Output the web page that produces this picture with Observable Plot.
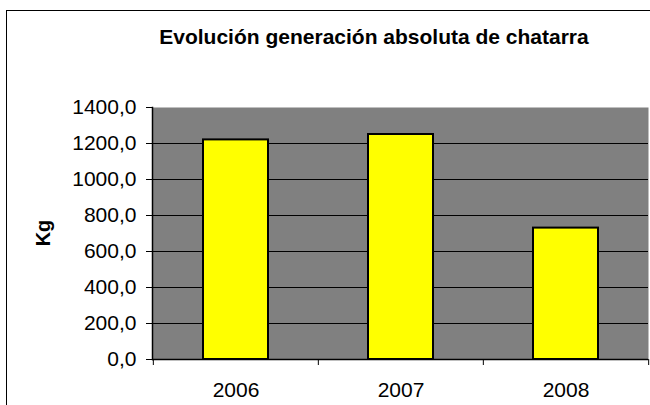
<!DOCTYPE html>
<html>
<head>
<meta charset="utf-8">
<script src="https://cdn.jsdelivr.net/npm/d3@7"></script>
<script src="https://cdn.jsdelivr.net/npm/@observablehq/plot@0.6"></script>
<style>
  html, body { margin: 0; padding: 0; background: #fff; }
  #wrap { position: relative; width: 650px; height: 405px; overflow: hidden; font-family: "Liberation Sans", Arial, sans-serif; }
  #border { position: absolute; left: 6px; top: 10px; width: 760px; height: 500px; border: 1px solid #000; box-sizing: border-box; }
  #title { position: absolute; left: 0; top: 26px; width: 748px; text-align: center; font-weight: bold; font-size: 21px; line-height: 21px; color: #000; white-space: nowrap; }
  #ylabel { position: absolute; left: 43px; top: 233px; transform: translate(-50%, -50%) rotate(-90deg); font-weight: bold; font-size: 20px; line-height: 20px; color: #000; }
  #chart { position: absolute; left: 0; top: 0; }
</style>
</head>
<body>
<div id="wrap">
  <div id="border"></div>
  <div id="chart"></div>
  <div id="title">Evolución generación absoluta de chatarra</div>
  <div id="ylabel">Kg</div>
</div>
<script>
const years = ["2006", "2007", "2008"];
const values = [1220, 1250, 730];
const yTicks = [0, 200, 400, 600, 800, 1000, 1200, 1400];

const data = years.map((year, i) => ({ year, value: values[i] }));

const W = 650, H = 405, mL = 152, mR = 2, mT = 107, mB = 46;
const step = (W - mL - mR) / years.length;
const fmt = d => d.toFixed(1).replace(".", ",");

const chart = Plot.plot({
  width: W,
  height: H,
  marginLeft: mL,
  marginRight: mR,
  marginTop: mT,
  marginBottom: mB,
  style: { fontFamily: "'Liberation Sans', Arial, sans-serif", fontSize: "21px", color: "#000", background: "transparent", overflow: "visible" },
  x: { domain: years, padding: 0, label: null },
  y: { domain: [0, 1400], label: null },
  marks: [
    Plot.frame({ fill: "#808080", stroke: "none" }),
    Plot.gridY(yTicks.filter(d => d > 0 && d < 1400), { stroke: "#000", strokeOpacity: 1, strokeWidth: 1 }),
    Plot.barY(data, { x: "year", y: "value", fill: "#ffff00", stroke: "#000", strokeWidth: 2, insetLeft: 50, insetRight: 50 }),
    Plot.ruleY([0], { stroke: "#000", strokeWidth: 1.5 }),
    Plot.frame({ anchor: "left", stroke: "#000", strokeWidth: 1.5 }),
    Plot.axisY(yTicks, { tickSize: 6, tickPadding: 10, tickFormat: fmt, label: null, stroke: "#000" }),
    Plot.axisX(years, { tickSize: 0, tickPadding: 23, label: null }),
    Plot.axisX(years, { tickSize: 6, tickFormat: () => "", dx: -step / 2, label: null, stroke: "#000" }),
    Plot.axisX(years.slice(-1), { tickSize: 6, tickFormat: () => "", dx: step / 2, label: null, stroke: "#000" })
  ]
});
document.getElementById("chart").appendChild(chart);
</script>
</body>
</html>
